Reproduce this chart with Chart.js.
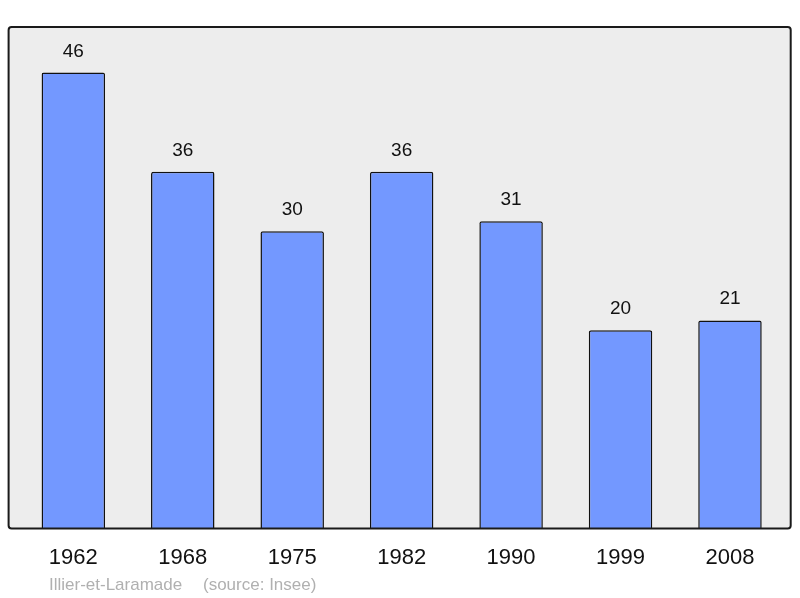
<!DOCTYPE html>
<html><head><meta charset="utf-8">
<script src="https://cdn.jsdelivr.net/npm/chart.js@4/dist/chart.umd.min.js"></script>
<style>html,body{margin:0;padding:0;background:#fff}#w{width:800px;height:598px}</style>
</head><body><div id="w"><canvas id="c"></canvas></div>
<script>
const years = ['1962','1968','1975','1982','1990','1999','2008'];
const population = [46, 36, 30, 36, 31, 20, 21];
const placeName = 'Illier-et-Laramade';
const sourceText = '(source: Insee)';

const framePlugin = {
  id: 'frame',
  beforeDatasetsDraw(chart) {
    const {ctx, chartArea: a} = chart;
    const l = a.left - 10, r = a.right + 6, t = a.top, b = a.bottom;
    ctx.save();
    ctx.beginPath();
    ctx.roundRect(l, t, r - l, b - t, 3);
    ctx.fillStyle = '#ededed';
    ctx.fill();
    ctx.restore();
  },
  afterDatasetsDraw(chart) {
    const {ctx, chartArea: a} = chart;
    const l = a.left - 10, r = a.right + 6, t = a.top, b = a.bottom;
    ctx.save();
    ctx.beginPath();
    ctx.roundRect(l, t, r - l, b - t, 3);
    ctx.lineWidth = 2;
    ctx.strokeStyle = '#1a1a1a';
    ctx.stroke();
    // value labels
    const meta = chart.getDatasetMeta(0);
    ctx.fillStyle = '#111';
    ctx.font = '19px "Liberation Sans", Arial, sans-serif';
    ctx.textAlign = 'center';
    ctx.textBaseline = 'alphabetic';
    meta.data.forEach((bar, i) => {
      ctx.fillText(String(population[i]), bar.x, bar.y - 16);
    });
    // source
    ctx.fillStyle = '#b0b0b0';
    ctx.font = '17px "Liberation Sans", Arial, sans-serif';
    ctx.textAlign = 'left';
    ctx.fillText(placeName, 49, 590);
    ctx.fillText(sourceText, 203, 590);
    ctx.restore();
  }
};

new Chart(document.getElementById('c'), {
  type: 'bar',
  data: {
    labels: years,
    datasets: [{
      data: population,
      backgroundColor: '#7398ff',
      borderColor: '#111',
      borderWidth: 1.5,
      borderRadius: 2,
      borderSkipped: 'bottom',
      barPercentage: 0.58,
      categoryPercentage: 1
    }]
  },
  options: {
    responsive: true,
    maintainAspectRatio: false,
    animation: false,
    layout: {padding: {left: 18.6, right: 15.3, top: 27, bottom: 19}},
    plugins: {legend: {display: false}, tooltip: {enabled: false}},
    scales: {
      x: {
        offset: true,
        grid: {display: false},
        border: {display: false},
        ticks: {color: '#111', font: {size: 22, family: '"Liberation Sans", Arial, sans-serif'}, padding: 8, maxRotation: 0}
      },
      y: {
        display: false,
        min: 0,
        max: 50.6
      }
    }
  },
  plugins: [framePlugin]
});
</script>
</body></html>
